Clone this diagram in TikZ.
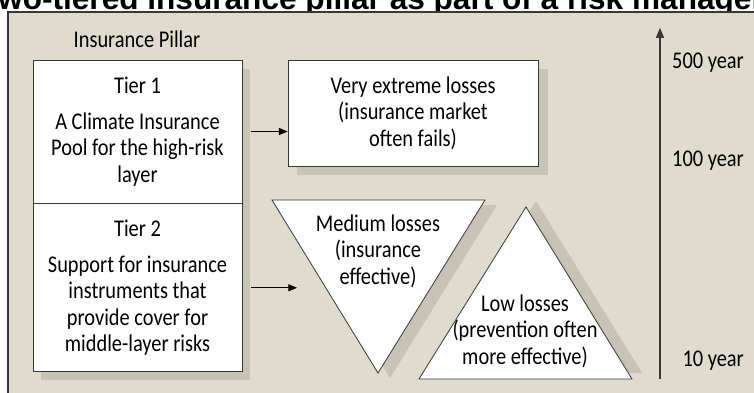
\documentclass[tikz,border=0pt]{standalone}
\usepackage{fontspec}
\setmainfont{Carlito}[FakeStretch=0.85]
\newfontfamily\titlefont{Liberation Sans}
\usetikzlibrary{arrows,shapes,positioning,backgrounds,calc}
\definecolor{panelbg}{RGB}{223,219,205}
\definecolor{shade}{RGB}{200,195,181}
\definecolor{edge}{RGB}{55,55,55}
\tikzset{pointer/.style={-triangle 45, line width=1pt}}

\begin{document}
\begin{tikzpicture}[x=1pt, y=-1pt, font=\fontsize{24}{26.5}\selectfont,
  box/.style={draw=edge, fill=white, line width=0.8pt, inner sep=0pt, align=center},
  shadow/.style={fill=shade, draw=none},
  label/.style={inner sep=0pt, align=center}]

  \useasboundingbox (0,0) rectangle (754,393);

  \begin{pgfonlayer}{background}
    \clip (0,0) rectangle (754,393);
    % title, cut off at the top
    \node [anchor=base west, inner sep=0pt,
      font=\titlefont\bfseries\fontsize{31.6}{36}\selectfont] (title) at (-19,10)
      {Two-tiered insurance pillar as part of a risk management};
    \path [fill=panelbg] (8,12) rectangle (760,400);
    \draw [edge, line width=1.2pt] (8,400) -- (8,12) -- (760,12);
  \end{pgfonlayer}

  \node [label] (pillar) at (137,39) {Insurance Pillar};

  \node [box, minimum width=209pt, minimum height=143pt] (tier1) at (137.5,131.5)
    {Tier 1\\[9pt]A Climate Insurance\\Pool for the high-risk\\layer};
  \node [box, minimum width=209pt, minimum height=168pt, below=0pt of tier1] (tier2)
    {Tier 2\\[9pt]Support for insurance\\instruments that\\provide cover for\\middle-layer risks};

  \node [box, minimum width=250pt, minimum height=106pt] (extreme) at (413,113)
    {Very extreme losses\\(insurance market\\often fails)};

  % the two loss triangles
  \coordinate (medL) at (272,200);
  \coordinate (medR) at (485,200);
  \coordinate (medB) at (378,373);
  \coordinate (lowT) at (526,207);
  \coordinate (lowL) at (419,379);
  \coordinate (lowR) at (632,379);
  \draw [edge, fill=white, line width=0.8pt] (medL) -- (medR) -- (medB) -- cycle;
  \draw [edge, fill=white, line width=0.8pt] (lowT) -- (lowR) -- (lowL) -- cycle;
  \node [label] (medium) at (378,251) {Medium losses\\(insurance\\effective)};
  \node [label] (low) at (525,331) {Low losses\\(prevention often\\more effective)};

  \begin{pgfonlayer}{background}
    \path [shadow] ($(tier1.north west)+(8,9)$) rectangle ($(tier2.south east)+(8,8)$);
    \path [shadow] ($(extreme.north west)+(9,9)$) rectangle ($(extreme.south east)+(10,9)$);
    \path [shadow] ($(medL)+(12,5)$) -- ($(medR)+(12,5)$) -- ($(medB)+(12,5)$) -- cycle;
    \path [shadow] ($(lowT)+(10,-6)$) -- ($(lowR)+(10,-6)$) -- ($(lowL)+(10,-6)$) -- cycle;
  \end{pgfonlayer}

  \coordinate (medin) at (297,288);
  \draw [pointer] ($(tier1.east)+(9,0)$) -- (tier1.east -| extreme.west);
  \draw [pointer] ($(tier2.east)+(9,0)$) -- (tier2.east -| medin);

  % return period axis
  \coordinate (axbot) at (660,379);
  \coordinate (axtop) at (660,28);
  \draw [pointer, edge, line width=1.3pt] (axbot) -- (axtop);
  \node [label, anchor=east] (y500) at (744,63) {500 year};
  \node [label, anchor=east] (y100) at (744,161) {100 year};
  \node [label, anchor=east] (y10) at (744,361) {10 year};
\end{tikzpicture}
\end{document}
